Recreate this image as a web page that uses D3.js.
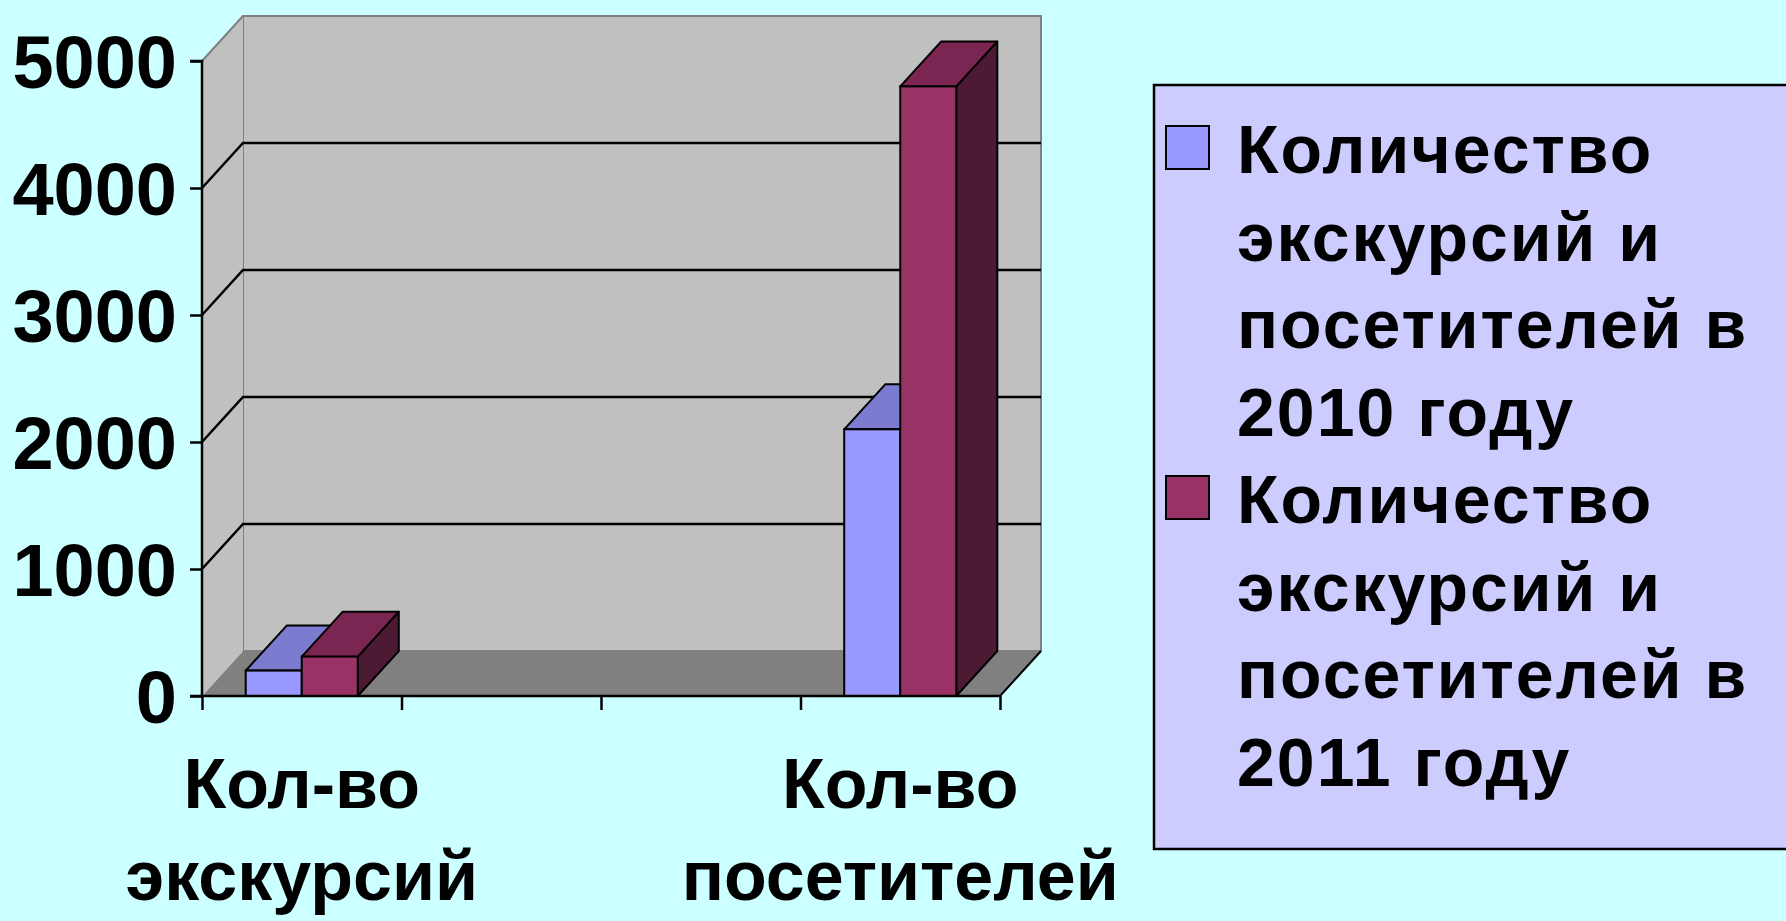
<!DOCTYPE html>
<html>
<head>
<meta charset="utf-8">
<script src="https://cdn.jsdelivr.net/npm/d3@7"></script>
<style>
  html, body { margin: 0; padding: 0; background: #ccffff; }
  svg { display: block; }
  text { font-family: "Liberation Sans", Arial, sans-serif; font-weight: bold; fill: #000; }
</style>
</head>
<body>
<svg id="chart" width="1786" height="921"></svg>
<script>
// data
const categories = ["Кол-во\nэкскурсий", "", "", "Кол-во\nпосетителей"];
const values2010 = [200, null, null, 2100];
const values2011 = [310, null, null, 4800];
const yTicks = [0, 1000, 2000, 3000, 4000, 5000];
const seriesNames = [
  "Количество экскурсий и посетителей в 2010 году",
  "Количество экскурсий и посетителей в 2011 году"
];
const legendBreaks = [[1, 3, 5], [1, 3, 5]]; // word index where a new line starts

const FRONT = ["#9999ff", "#993366"];
const TOP = ["#7b7bcf", "#7a2552"];
const SIDE = ["#4d4d85", "#4d1a33"];

const DX = 41, DY = -45;   // depth of the 3d box

const svg = d3.select('#chart');

const y = d3.scaleLinear().domain([0, 5000]).range([696, 61]);
const x = d3.scaleBand().domain(d3.range(categories.length)).range([202, 1000]);
const xEdge = d3.scaleLinear().domain([0, categories.length]).range([202, 1000]);
const xSub = d3.scaleBand().domain([0, 1]).range([0, x.bandwidth()]).paddingOuter(0.78);

const x0 = xEdge(0), x1 = xEdge(categories.length);
const yTop = y(5000), yBase = y(0);

const g = svg.append('g');

// back wall
g.append('rect')
    .attr('x', x0 + DX).attr('y', yTop + DY)
    .attr('width', x1 - x0).attr('height', yBase - yTop)
    .attr('fill', '#c0c0c0').attr('stroke', '#808080').attr('stroke-width', 2);

// floor
g.append('path')
    .attr('d', `M${x0},${yBase} L${x1},${yBase} L${x1 + DX},${yBase + DY} L${x0 + DX},${yBase + DY} Z`)
    .attr('fill', '#808080');

// side wall
g.append('path')
    .attr('d', `M${x0},${yTop} L${x0 + DX},${yTop + DY} L${x0 + DX},${yBase + DY} L${x0},${yBase} Z`)
    .attr('fill', '#c0c0c0');
g.append('line')
    .attr('x1', x0).attr('y1', yTop).attr('x2', x0 + DX).attr('y2', yTop + DY)
    .attr('stroke', '#808080').attr('stroke-width', 2);

// floor right edge
g.append('line')
    .attr('x1', x1).attr('y1', yBase).attr('x2', x1 + DX).attr('y2', yBase + DY)
    .attr('stroke', '#000').attr('stroke-width', 2);

// gridlines (side wall diagonal + back wall)
yTicks.filter(t => t > 0 && t < 5000).forEach(t => {
  g.append('path')
      .attr('d', `M${x0},${y(t)} L${x0 + DX},${y(t) + DY} L${x1 + DX},${y(t) + DY}`)
      .attr('fill', 'none').attr('stroke', '#000').attr('stroke-width', 2.5);
});

// bars
const series = [values2010, values2011];
categories.forEach((c, i) => {
  series.forEach((vals, s) => {
    const v = vals[i];
    if (v == null) return;
    const bx = x(i) + xSub(s);
    const bw = xSub.bandwidth();
    const by = y(v);
    // side
    g.append('path')
        .attr('d', `M${bx + bw},${yBase} L${bx + bw + DX},${yBase + DY} L${bx + bw + DX},${by + DY} L${bx + bw},${by} Z`)
        .attr('fill', SIDE[s]).attr('stroke', '#000').attr('stroke-width', 2).attr('stroke-linejoin', 'round');
    // top
    g.append('path')
        .attr('d', `M${bx},${by} L${bx + DX},${by + DY} L${bx + bw + DX},${by + DY} L${bx + bw},${by} Z`)
        .attr('fill', TOP[s]).attr('stroke', '#000').attr('stroke-width', 2).attr('stroke-linejoin', 'round');
    // front
    g.append('rect')
        .attr('x', bx).attr('y', by)
        .attr('width', bw).attr('height', yBase - by)
        .attr('fill', FRONT[s]).attr('stroke', '#000').attr('stroke-width', 2);
  });
});

// y axis
const yAxis = svg.append('g')
    .attr('transform', `translate(${x0},0)`)
    .call(d3.axisLeft(y).tickValues(yTicks).tickSize(12).tickPadding(13).tickFormat(d3.format('d')));
yAxis.selectAll('path, line').attr('stroke', '#000').attr('stroke-width', 2.5);
yAxis.select('.domain').attr('d', `M-12,${yTop}H0V${yBase}H-12`);
yAxis.selectAll('text')
    .attr('font-size', 74).attr('font-family', '"Liberation Sans", Arial, sans-serif')
    .attr('font-weight', 'bold').attr('fill', '#000').attr('dy', '0.36em');

// x axis, ticks on category edges
const xAxis = svg.append('g')
    .attr('transform', `translate(0,${yBase})`)
    .call(d3.axisBottom(xEdge).ticks(categories.length).tickSize(14).tickFormat(''));
xAxis.selectAll('path, line').attr('stroke', '#000').attr('stroke-width', 2.5);
xAxis.select('.domain').attr('d', `M${x0},0H${x1}`);

// category labels
categories.forEach((c, i) => {
  if (!c) return;
  const t = svg.append('text')
      .attr('text-anchor', 'middle')
      .attr('font-size', 70);
  c.split('\n').forEach((line, k) => {
    t.append('tspan')
        .attr('x', x(i) + x.bandwidth() / 2)
        .attr('y', 808 + k * 92)
        .text(line);
  });
});

// legend
const lg = svg.append('g');
lg.append('rect')
    .attr('x', 1154).attr('y', 85)
    .attr('width', 700).attr('height', 764)
    .attr('fill', '#ccccff').attr('stroke', '#000').attr('stroke-width', 2.5);

const LINE_H = 87.5;
let lineNo = 0;
seriesNames.forEach((name, s) => {
  const words = name.split(' ');
  const lines = [];
  let cur = [];
  words.forEach((w, k) => {
    if (legendBreaks[s].includes(k) && cur.length) { lines.push(cur.join(' ')); cur = []; }
    cur.push(w);
  });
  lines.push(cur.join(' '));

  const baseY = 173 + lineNo * LINE_H;
  lg.append('rect')
      .attr('x', 1166).attr('y', baseY - 47)
      .attr('width', 43).attr('height', 43)
      .attr('fill', FRONT[s]).attr('stroke', '#000').attr('stroke-width', 2);

  lines.forEach((ln, k) => {
    lg.append('text')
        .attr('x', 1237).attr('y', baseY + k * LINE_H)
        .attr('font-size', 68)
        .attr('letter-spacing', 2)
        .text(ln);
  });
  lineNo += lines.length;
});
</script>
</body>
</html>
